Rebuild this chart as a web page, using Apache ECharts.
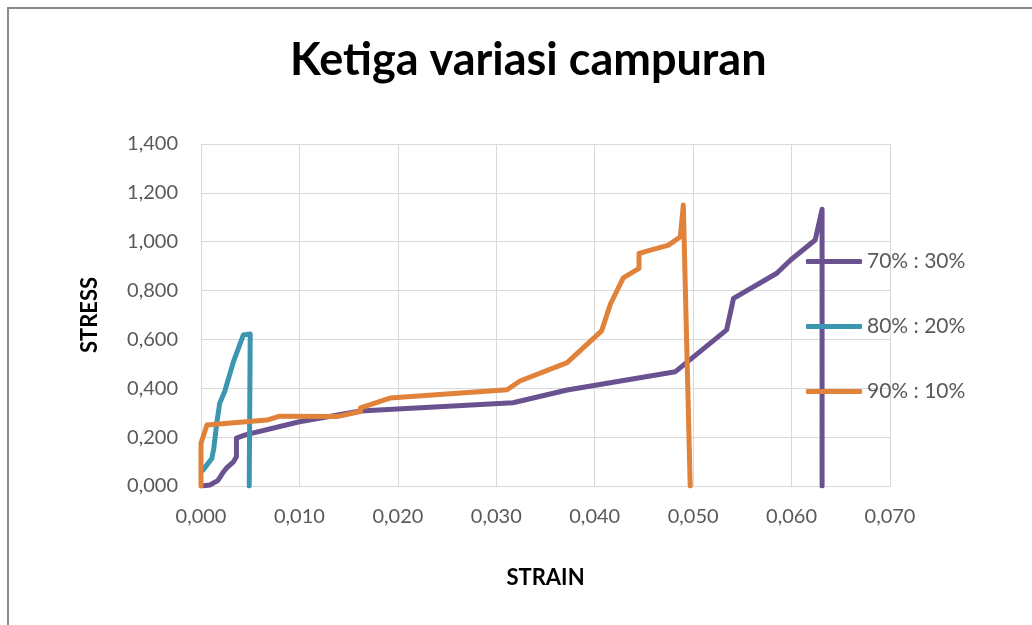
<!DOCTYPE html>
<html>
<head>
<meta charset="utf-8">
<script src="https://cdn.jsdelivr.net/npm/echarts@6/dist/echarts.min.js"></script>
<style>
  html, body { margin: 0; padding: 0; background: #fff; }
  #chart { width: 1032px; height: 625px; }
</style>
</head>
<body>
<div id="chart"></div>
<script>
// data: [strain, stress]
var mix7030 = [
  [0.0001, 0.000], [0.0009, 0.004], [0.0017, 0.022], [0.0022, 0.053], [0.0026, 0.074],
  [0.0033, 0.099], [0.0036, 0.120], [0.0036, 0.196], [0.0045, 0.209], [0.0100, 0.263],
  [0.0162, 0.307], [0.0317, 0.341], [0.0372, 0.393], [0.0482, 0.468], [0.0534, 0.639],
  [0.0541, 0.768], [0.0585, 0.871], [0.0599, 0.925], [0.0624, 1.007], [0.0631, 1.133],
  [0.0631, 0.000]
];
var mix8020 = [
  [0.0002, 0.065], [0.0011, 0.113], [0.0013, 0.154], [0.0016, 0.257], [0.0019, 0.339],
  [0.0024, 0.386], [0.0028, 0.441], [0.0033, 0.509], [0.0043, 0.618], [0.0050, 0.622],
  [0.0049, 0.000]
];
var mix9010 = [
  [0.0000, 0.000], [0.0000, 0.175], [0.0006, 0.250], [0.0067, 0.270], [0.0080, 0.286],
  [0.0138, 0.284], [0.0162, 0.305], [0.0162, 0.320], [0.0192, 0.360], [0.0311, 0.394],
  [0.0324, 0.430], [0.0372, 0.505], [0.0407, 0.635], [0.0416, 0.745], [0.0429, 0.852],
  [0.0445, 0.891], [0.0445, 0.952], [0.0475, 0.986], [0.0487, 1.020], [0.0490, 1.150],
  [0.0497, 0.000]
];
var seriesNames = ['70% : 30%', '80% : 20%', '90% : 10%'];
var seriesColors = ['#6a5190', '#3b97b0', '#e0823a'];

var myChart = echarts.init(document.getElementById('chart'));

function fmt(v) {
  return v.toFixed(3).replace('.', ',');
}

function mkSeries(name, data, color) {
  return {
    name: name,
    type: 'line',
    data: data,
    symbol: 'none',
    animation: false,
    lineStyle: { color: color, width: 5, cap: 'round', join: 'round' },
    itemStyle: { color: color }
  };
}

var option = {
  backgroundColor: '#fff',
  graphic: [{
    type: 'rect',
    shape: { x: 8, y: 8, width: 1040, height: 640 },
    style: { fill: 'none', stroke: '#8a8a8a', lineWidth: 2 },
    silent: true
  }],
  title: {
    text: 'Ketiga variasi campuran',
    left: 285,
    top: 33,
    textStyle: { fontFamily: 'Lato', fontWeight: 'bold', fontSize: 45, color: '#000' }
  },
  legend: {
    orient: 'vertical',
    left: 801,
    top: 246,
    icon: 'roundRect',
    itemWidth: 56,
    itemHeight: 5,
    itemGap: 44,
    data: seriesNames,
    textStyle: { fontFamily: 'Lato', fontSize: 21, color: '#595959', lineHeight: 20 }
  },
  grid: { left: 201, right: 142, top: 144, bottom: 139 },
  xAxis: {
    type: 'value',
    min: 0,
    max: 0.07,
    interval: 0.01,
    name: 'STRAIN',
    nameLocation: 'middle',
    nameGap: 81,
    nameTextStyle: { fontFamily: 'Lato', fontWeight: 'bold', fontSize: 22, color: '#000' },
    axisLine: { show: true, lineStyle: { color: '#d9d9d9', width: 1 } },
    axisTick: { show: false },
    splitLine: { show: true, lineStyle: { color: '#d9d9d9', width: 1 } },
    axisLabel: { formatter: fmt, margin: 21, fontFamily: 'Lato', fontSize: 20, color: '#595959' }
  },
  yAxis: {
    type: 'value',
    min: 0,
    max: 1.4,
    interval: 0.2,
    name: 'STRESS',
    nameLocation: 'middle',
    nameGap: 100,
    nameRotate: 90,
    nameTextStyle: { fontFamily: 'Lato', fontWeight: 'bold', fontSize: 22, color: '#000' },
    axisLine: { show: true, lineStyle: { color: '#d9d9d9', width: 1 } },
    axisTick: { show: false },
    splitLine: { show: true, lineStyle: { color: '#d9d9d9', width: 1 } },
    axisLabel: { formatter: fmt, margin: 23, fontFamily: 'Lato', fontSize: 20, color: '#595959' }
  },
  series: [
    mkSeries(seriesNames[0], mix7030, seriesColors[0]),
    mkSeries(seriesNames[1], mix8020, seriesColors[1]),
    mkSeries(seriesNames[2], mix9010, seriesColors[2])
  ]
};

myChart.setOption(option);
</script>
</body>
</html>
